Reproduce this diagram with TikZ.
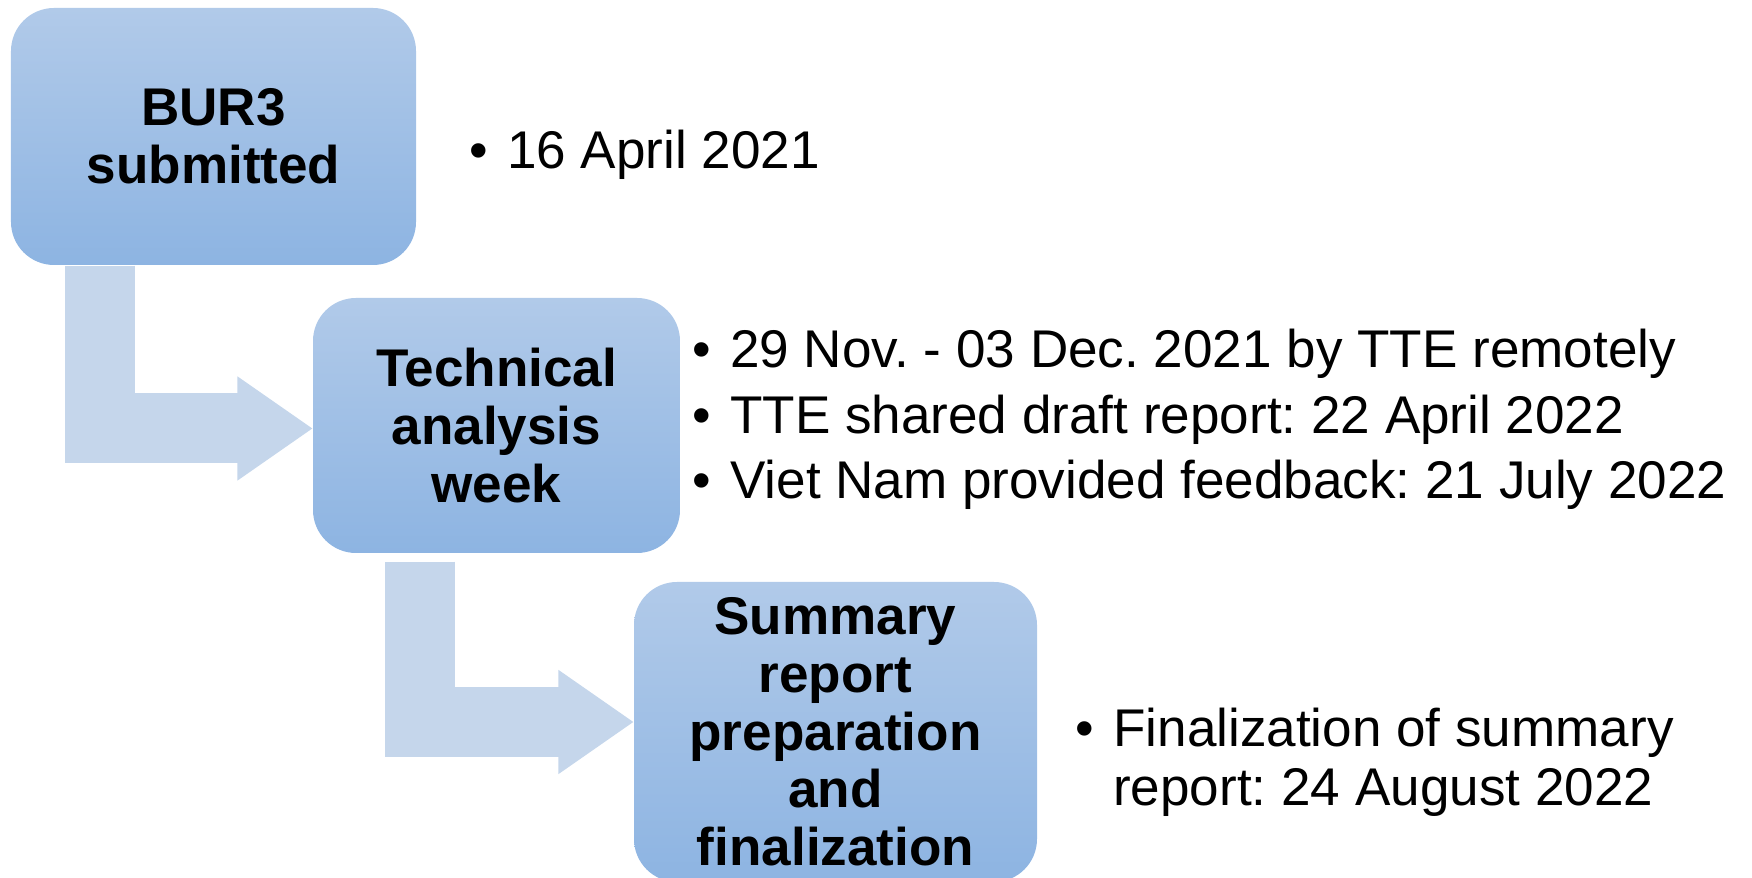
\documentclass[tikz,border=0pt]{standalone}
\usepackage{fontspec}
\setmainfont{Liberation Sans}
\frenchspacing
\usetikzlibrary{arrows.meta}

\definecolor{boxtop}{RGB}{177,202,233}
\definecolor{boxbottom}{RGB}{141,180,226}
\definecolor{flowblue}{RGB}{197,214,235}

\begin{document}
\begin{tikzpicture}[
    stage/.style={rounded corners=0.43cm, top color=boxtop, bottom color=boxbottom,
      align=center, inner sep=0pt, font=\fontsize{15.1}{16.4}\selectfont\bfseries},
    dates/.style={anchor=base west, inner sep=0pt},
    flow/.style={draw=flowblue, line width=0.70cm, line join=miter,
      -{Triangle[length=0.75cm, width=1.04cm, line width=0.6pt]}}
  ]
  \useasboundingbox (0,0) rectangle (17.52,8.78);

  % the three stages
  \node[stage, minimum width=4.05cm, minimum height=2.57cm] (bur) at (2.135,7.415)
        {BUR3\\submitted};
  \node[stage, minimum width=3.67cm, minimum height=2.55cm] (tech) at (4.965,4.525)
        {Technical\\analysis\\week};
  \node[stage, minimum width=4.03cm, minimum height=3.00cm] (summ) at (8.355,1.46)
        {Summary\\report\\preparation\\and\\finalization};

  % bent arrows between stages
  \draw[flow] ([xshift=-1.135cm]bur.south) |- ([yshift=-0.03cm]tech.west);
  \draw[flow] ([xshift=-0.765cm, yshift=-0.08cm]tech.south) |- ([yshift=0.10cm]summ.west);

  % dates next to each stage
  \node[dates, font=\fontsize{15.1}{18.5}\selectfont] (d1) at (4.69,7.09)
        {\begin{tabular}[t]{@{}l@{\hspace{0.19cm}}l@{}}
          \textbullet & 16 April 2021
         \end{tabular}};
  \node[dates, font=\fontsize{15.1}{18.5}\selectfont] (d2) at (6.92,5.10)
        {\begin{tabular}[t]{@{}l@{\hspace{0.19cm}}l@{}}
          \textbullet & 29 Nov. - 03 Dec. 2021 by TTE remotely\\
          \textbullet & TTE shared draft report: 22 April 2022\\
          \textbullet & Viet Nam provided feedback: 21 July 2022
         \end{tabular}};
  \node[dates, font=\fontsize{15.1}{16.6}\selectfont] (d3) at (10.75,1.31)
        {\begin{tabular}[t]{@{}l@{\hspace{0.19cm}}l@{}}
          \textbullet & Finalization of summary\\
                      & report: 24 August 2022
         \end{tabular}};
\end{tikzpicture}
\end{document}
